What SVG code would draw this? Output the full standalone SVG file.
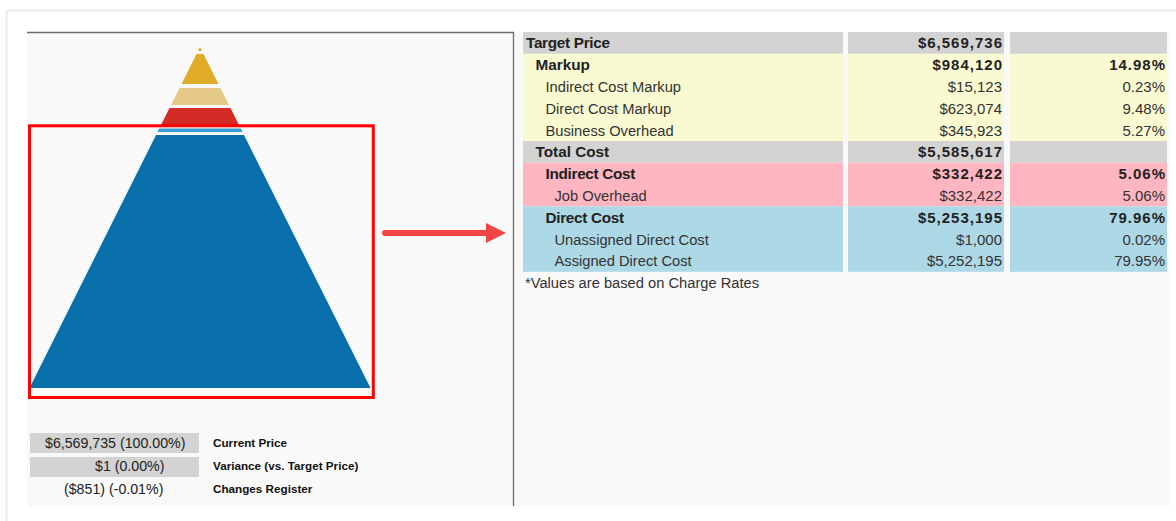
<svg xmlns="http://www.w3.org/2000/svg" width="1176" height="521" viewBox="0 0 1176 521">
<style>
text{font-family:"Liberation Sans",Arial,sans-serif;}
.lab{font-size:14.7px;fill:#333;}
.labb{font-size:15.3px;font-weight:bold;fill:#222;}
.num{font-size:15px;fill:#333;text-anchor:end;}
.numb{font-size:15px;font-weight:bold;fill:#222;text-anchor:end;letter-spacing:1px;}
.gray{fill:#d3d3d3;}
.yel{fill:#fafad2;}
.pink{fill:#ffb6c1;}
.blue{fill:#add8e6;}
.leg{font-size:14.2px;fill:#222;}
.legl{font-size:11.7px;font-weight:bold;fill:#111;}
</style>
<defs>
<marker id="ah" markerUnits="userSpaceOnUse" markerWidth="20" markerHeight="20" refX="0" refY="10" orient="auto">
<polygon points="0,0 20,10 0,20" fill="#f44545"/>
</marker>
</defs>
<rect x="0" y="0" width="1176" height="521" fill="#fff"/>
<g id="frame">
<line x1="6" y1="10.5" x2="1176" y2="10.5" stroke="#ebebeb" stroke-width="2"/>
<line x1="6.5" y1="10" x2="6.5" y2="521" stroke="#ebebeb" stroke-width="2"/>
<rect x="27" y="32" width="1142" height="475" fill="#f9f9f9"/>
<line x1="27" y1="32.5" x2="513.5" y2="32.5" stroke="#6b6b6b" stroke-width="1.3"/>
<line x1="513.5" y1="32" x2="513.5" y2="506" stroke="#6b6b6b" stroke-width="1.3"/>
</g>
<g id="pyramid">
<polygon points="200,47 202,51 198,51" fill="#e1ad29"/>
<polygon points="196.5,54 203.5,54 218.5,84 181.5,84" fill="#e1ad29"/>
<polygon points="179.5,88 220.5,88 229,105 171,105" fill="#e4c886"/>
<polygon points="169.5,108 230.5,108 240,127 160,127" fill="#d52b27"/>
<polygon points="159,128.5 241,128.5 242.5,132 157.5,132" fill="#3b9dd8"/>
<polygon points="156,135 244,135 370.5,388 29.5,388" fill="#0a70ab"/>
</g>
<g id="highlight">
<rect x="29.5" y="125.8" width="343.8" height="271.7" fill="none" stroke="#ff0000" stroke-width="3"/>
</g>
<g id="connectors">
<line x1="385" y1="233" x2="486" y2="233" stroke="#f44545" stroke-width="6" stroke-linecap="round" marker-end="url(#ah)"/>
</g>
<g id="legend">
<rect x="30" y="433" width="169" height="20" fill="#d3d3d3"/>
<rect x="30" y="457" width="169" height="20" fill="#d3d3d3"/>
<text class="leg" x="45" y="448">$6,569,735 (100.00%)</text>
<text class="leg" x="95" y="471">$1 (0.00%)</text>
<text class="leg" x="64" y="494">($851) (-0.01%)</text>
<text class="legl" x="213" y="447">Current Price</text>
<text class="legl" x="213" y="470">Variance (vs. Target Price)</text>
<text class="legl" x="213" y="493">Changes Register</text>
</g>
<g id="table">
<rect class="gray" x="523" y="32" width="320" height="21.8"/>
<rect class="gray" x="848" y="32" width="156" height="21.8"/>
<rect class="gray" x="1010" y="32" width="157" height="21.8"/>
<rect class="yel" x="523" y="53.8" width="320" height="87.2"/>
<rect class="yel" x="848" y="53.8" width="156" height="87.2"/>
<rect class="yel" x="1010" y="53.8" width="157" height="87.2"/>
<rect class="gray" x="523" y="141" width="320" height="21.8"/>
<rect class="gray" x="848" y="141" width="156" height="21.8"/>
<rect class="gray" x="1010" y="141" width="157" height="21.8"/>
<rect class="pink" x="523" y="162.8" width="320" height="43.6"/>
<rect class="pink" x="848" y="162.8" width="156" height="43.6"/>
<rect class="pink" x="1010" y="162.8" width="157" height="43.6"/>
<rect class="blue" x="523" y="206.4" width="320" height="65.4"/>
<rect class="blue" x="848" y="206.4" width="156" height="65.4"/>
<rect class="blue" x="1010" y="206.4" width="157" height="65.4"/>

<text class="labb" x="526" y="48.3" letter-spacing="-0.3">Target Price</text>
<text class="numb" x="1003" y="48.3">$6,569,736</text>

<text class="labb" x="535.5" y="70.1">Markup</text>
<text class="numb" x="1003" y="70.1">$984,120</text>
<text class="numb" x="1166" y="70.1">14.98%</text>

<text class="lab" x="545.5" y="91.9">Indirect Cost Markup</text>
<text class="num" x="1002" y="91.9">$15,123</text>
<text class="num" x="1165" y="91.9">0.23%</text>

<text class="lab" x="545.5" y="113.7">Direct Cost Markup</text>
<text class="num" x="1002" y="113.7">$623,074</text>
<text class="num" x="1165" y="113.7">9.48%</text>

<text class="lab" x="545.5" y="135.5">Business Overhead</text>
<text class="num" x="1002" y="135.5">$345,923</text>
<text class="num" x="1165" y="135.5">5.27%</text>

<text class="labb" x="535.5" y="157.3">Total Cost</text>
<text class="numb" x="1003" y="157.3">$5,585,617</text>

<text class="labb" x="545.5" y="179.1" letter-spacing="-0.3">Indirect Cost</text>
<text class="numb" x="1003" y="179.1">$332,422</text>
<text class="numb" x="1166" y="179.1">5.06%</text>

<text class="lab" x="554.5" y="200.9">Job Overhead</text>
<text class="num" x="1002" y="200.9">$332,422</text>
<text class="num" x="1165" y="200.9">5.06%</text>

<text class="labb" x="545.5" y="222.7" letter-spacing="-0.3">Direct Cost</text>
<text class="numb" x="1003" y="222.7">$5,253,195</text>
<text class="numb" x="1166" y="222.7">79.96%</text>

<text class="lab" x="554.5" y="244.5">Unassigned Direct Cost</text>
<text class="num" x="1002" y="244.5">$1,000</text>
<text class="num" x="1165" y="244.5">0.02%</text>

<text class="lab" x="554.5" y="266.3">Assigned Direct Cost</text>
<text class="num" x="1002" y="266.3">$5,252,195</text>
<text class="num" x="1165" y="266.3">79.95%</text>

<text class="lab" x="525" y="288">*Values are based on Charge Rates</text>
</g>
</svg>
